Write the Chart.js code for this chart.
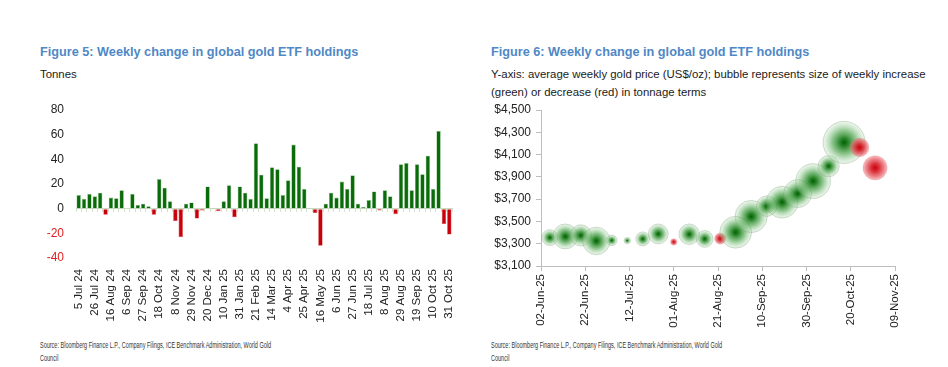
<!DOCTYPE html>
<html>
<head>
<meta charset="utf-8">
<script src="https://cdn.jsdelivr.net/npm/chart.js@4.4.1/dist/chart.umd.min.js"></script>
<style>
  html, body { margin:0; padding:0; background:#fff; width:948px; height:367px; overflow:hidden; }
  body { position:relative; font-family:"Liberation Sans", Arial, sans-serif; }
  .t { position:absolute; white-space:nowrap; }
  .title { font-weight:bold; font-size:12.7px; color:#4f88c6; line-height:16px; }
  .sub { font-size:11.4px; color:#1a1a1a; line-height:18px; }
  .src { font-family:"Liberation Sans", Arial, sans-serif; font-size:9.7px; color:#333; line-height:13px; transform-origin:0 0; transform:scaleX(0.568); }
  canvas { position:absolute; }
</style>
</head>
<body>
<div class="t title" style="left:40px;top:44px;">Figure 5: Weekly change in global gold ETF holdings</div>
<div class="t sub" style="left:40px;top:65px;">Tonnes</div>
<div class="t title" style="left:491px;top:44px;">Figure 6: Weekly change in global gold ETF holdings</div>
<div class="t sub" style="left:491px;top:65px;">Y-axis: average weekly gold price (US$/oz); bubble represents size of weekly increase<br>(green) or decrease (red) in tonnage terms</div>
<div class="t src" style="left:40px;top:338px;">Source: Bloomberg Finance L.P., Company Filings, ICE Benchmark Administration, World Gold<br>Council</div>
<div class="t src" style="left:491px;top:338px;">Source: Bloomberg Finance L.P., Company Filings, ICE Benchmark Administration, World Gold<br>Council</div>

<div style="position:absolute;left:40px;top:95px;width:430px;height:240px;"><canvas id="c1"></canvas></div>
<div style="position:absolute;left:485px;top:95px;width:435px;height:240px;"><canvas id="c2"></canvas></div>

<script>
// ---------- Figure 5 data ----------
const weekStart = '2024-07-05';   // first weekly category (Friday)
const tickLabels = ['5 Jul 24','26 Jul 24','16 Aug 24','6 Sep 24','27 Sep 24','18 Oct 24','8 Nov 24','29 Nov 24',
  '20 Dec 24','10 Jan 25','31 Jan 25','21 Feb 25','14 Mar 25','4 Apr 25','25 Apr 25','16 May 25','6 Jun 25',
  '27 Jun 25','18 Jul 25','8 Aug 25','29 Aug 25','19 Sep 25','10 Oct 25','31 Oct 25'];
const weeklyTonnes = [
  11, 8, 12, 10, 13, -5, 9, 8.5, 15, 0,
  12, 3, 4, 2, -5, 24, 17, 6, -10, -23,
  4, 5, -8, -1.5, 18, 0.5, -2, 6, 19, -7,
  18, 13, 8, 53, 27.5, 8.5, 33.5, 32, 11, 23,
  52, 34, 16, 0.5, -3.5, -30, 4, 13, 9, 22,
  16, 27, 4, 1.5, 7, 14, -1.5, 15, 10, -4.5,
  36, 37, 15, 36, 28, 43, 16, 63, -12.5, -21
];
const yTicks1 = [-40, -20, 0, 20, 40, 60, 80];

// ---------- Figure 6 data ----------
const bubbleDates = ['2025-06-06','2025-06-13','2025-06-20','2025-06-27','2025-07-04','2025-07-11','2025-07-18',
  '2025-07-25','2025-08-01','2025-08-08','2025-08-15','2025-08-22','2025-08-29','2025-09-05','2025-09-12',
  '2025-09-19','2025-09-26','2025-10-03','2025-10-10','2025-10-17','2025-10-24','2025-10-31'];
const bubblePrice = [3355, 3365, 3375, 3325, 3330, 3328, 3343, 3388, 3316, 3385, 3343, 3346,
  3403, 3544, 3637, 3673, 3750, 3862, 3996, 4209, 4164, 3981];
const bubbleTonnes = [9, 22, 16, 27, 4, 1.5, 7, 14, -1.5, 15, 10, -4.5, 36, 37, 15, 36, 28, 43, 16, 63, -12.5, -21];
const xTickDates = ['2025-06-02','2025-06-22','2025-07-12','2025-08-01','2025-08-21','2025-09-10','2025-09-30','2025-10-20','2025-11-09'];
const yTicks2 = [3100, 3300, 3500, 3700, 3900, 4100, 4300, 4500];

// ---------- helpers ----------
const DAY = 86400000;
const MON = ['Jan','Feb','Mar','Apr','May','Jun','Jul','Aug','Sep','Oct','Nov','Dec'];
const parse = s => { const [y,m,d] = s.split('-').map(Number); return Date.UTC(y, m-1, d); };
const baseDate = parse(xTickDates[0]);
const toDay = s => Math.round((parse(s) - baseDate) / DAY);
const fmtDate = s => { const [y,m,d] = s.split('-'); return d + '-' + MON[Number(m)-1] + '-' + y.slice(2); };

const categories = weeklyTonnes.map((_, i) => new Date(parse(weekStart) + i*7*DAY).toISOString().slice(0,10));

Chart.defaults.font.family = '"Liberation Sans", Arial, sans-serif';
Chart.defaults.animation = false;
// bubbles may overflow the plot area; do not let them shrink the layout
Chart.BubbleController.prototype.getMaxOverflow = function () { return 0; };

// ---------- Figure 5 chart ----------
new Chart(document.getElementById('c1'), {
  type: 'bar',
  data: {
    labels: categories,
    datasets: [{
      data: weeklyTonnes,
      xAxisID: 'x',
      backgroundColor: c => c.raw < 0 ? '#c8000c' : '#0b6b0b',
      borderColor: c => c.raw < 0 ? '#d84040' : '#7fbf7f',
      borderWidth: 0.6,
      barPercentage: 0.82,
      categoryPercentage: 1.0
    }]
  },
  options: {
    responsive: true, maintainAspectRatio: false,
    layout: { padding: { top: 15, right: 18, left: 0, bottom: 0 } },
    plugins: { legend: { display: false }, tooltip: { enabled: false } },
    scales: {
      x: {
        type: 'category', position: 'bottom',
        grid: { display: false }, border: { display: false },
        afterFit: s => { s.height = 77; },
        ticks: {
          autoSkip: false, maxRotation: 90, minRotation: 90, padding: 3,
          color: '#222', font: { size: 11.5 },
          callback: (v, i) => (i % 3 === 0 ? tickLabels[i / 3] : '')
        }
      },
      x2: {
        type: 'category', labels: categories, position: { y: 0 },
        offset: true,
        grid: { display: true, drawOnChartArea: false, offset: true, tickLength: 3, color: '#d6e2d0' },
        border: { display: true, color: '#c9dbc3', width: 1 },
        ticks: { display: false }
      },
      y: {
        min: -40, max: 80,
        afterFit: s => { s.width = 36; },
        afterBuildTicks: s => { s.ticks = yTicks1.map(v => ({ value: v })); },
        grid: { display: true, drawOnChartArea: false, drawTicks: true, tickLength: 12, tickColor: 'rgba(0,0,0,0)' },
        border: { display: false },
        ticks: {
          padding: 0, color: c => c.tick.value < 0 ? '#e02020' : '#222', font: { size: 12 }
        }
      }
    }
  }
});

// ---------- Figure 6 chart ----------
const bubbleData = bubbleDates.map((d, i) => ({
  x: toDay(d), y: bubblePrice[i], r: 2.65 * Math.sqrt(Math.abs(bubbleTonnes[i])), t: bubbleTonnes[i]
}));

function bubbleFill(c) {
  const chart = c.chart, raw = c.raw;
  const solid = raw && raw.t < 0 ? 'rgba(210,20,30,0.8)' : 'rgba(40,130,40,0.6)';
  if (!raw || !chart.scales.x || !chart.scales.y) return solid;
  const x = chart.scales.x.getPixelForValue(raw.x), y = chart.scales.y.getPixelForValue(raw.y);
  if (!isFinite(x) || !isFinite(y)) return solid;
  const r = Math.max(raw.r, 0.5);
  const g = chart.ctx.createRadialGradient(x, y, 0, x, y, r);
  if (raw.t < 0) {
    g.addColorStop(0, 'rgba(200,0,10,1)');
    g.addColorStop(0.35, 'rgba(215,30,40,0.9)');
    g.addColorStop(0.75, 'rgba(228,80,90,0.7)');
    g.addColorStop(1, 'rgba(238,130,135,0.5)');
  } else {
    g.addColorStop(0, 'rgba(0,95,0,1)');
    g.addColorStop(0.2, 'rgba(20,120,20,0.9)');
    g.addColorStop(0.55, 'rgba(60,155,60,0.6)');
    g.addColorStop(1, 'rgba(160,210,160,0.18)');
  }
  return g;
}

new Chart(document.getElementById('c2'), {
  type: 'bubble',
  data: {
    datasets: [{
      data: bubbleData,
      backgroundColor: bubbleFill,
      borderColor: c => (c.raw && c.raw.t < 0) ? 'rgba(220,80,80,0.3)' : 'rgba(110,150,110,0.55)',
      borderWidth: 0.6,
      clip: false
    }]
  },
  options: {
    responsive: true, maintainAspectRatio: false,
    layout: { padding: { top: 15, right: 25, left: 0, bottom: 0 } },
    plugins: { legend: { display: false }, tooltip: { enabled: false } },
    scales: {
      x: {
        type: 'linear', min: 0, max: toDay(xTickDates[xTickDates.length - 1]),
        afterBuildTicks: s => { s.ticks = xTickDates.map(d => ({ value: toDay(d) })); },
        afterFit: s => { s.height = 69; },
        grid: { display: true, drawOnChartArea: false, tickLength: 5, color: '#bdbdbd' },
        border: { display: true, color: '#bdbdbd' },
        ticks: {
          maxRotation: 90, minRotation: 90, padding: 3, color: '#222', font: { size: 11.5 },
          callback: (v, i) => fmtDate(xTickDates[i])
        }
      },
      y: {
        min: 3100, max: 4500,
        afterBuildTicks: s => { s.ticks = yTicks2.map(v => ({ value: v })); },
        afterFit: s => { s.width = 56; },
        grid: { display: true, drawOnChartArea: false, tickLength: 5, color: '#bdbdbd' },
        border: { display: true, color: '#bdbdbd' },
        ticks: {
          padding: 5, color: '#222', font: { size: 12 },
          callback: v => '$' + v.toLocaleString('en-US')
        }
      }
    }
  }
});
</script>
</body>
</html>
